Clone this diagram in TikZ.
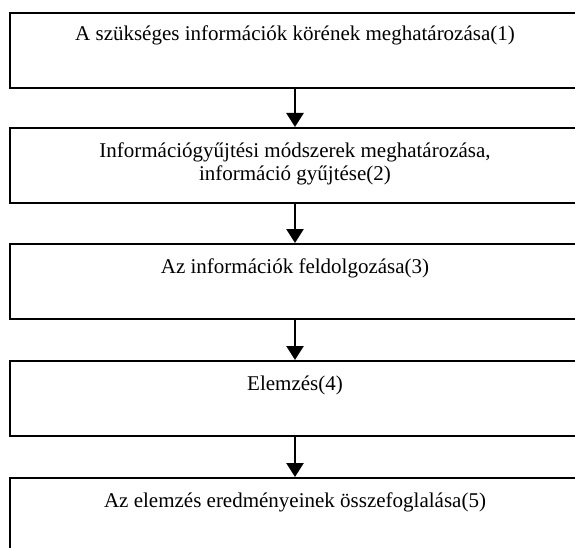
\documentclass[tikz,border=0pt]{standalone}
\usepackage{fontspec}
\setmainfont{Liberation Serif}
\usetikzlibrary{arrows.meta}
\begin{document}
\begin{tikzpicture}[x=1pt,y=-1pt,
  stepbox/.style={draw, line width=1.6pt, minimum width=570pt, minimum height=75pt, inner sep=0pt, anchor=north},
  steptext/.style={anchor=base, align=center, inner sep=0pt, font=\fontsize{21}{24}\selectfont},
  arr/.style={line width=2.6pt, -{Triangle[width=17pt,length=14pt]}}]
\useasboundingbox (0,0) rectangle (575,548);
\fill[white] (0,0) rectangle (575,548);
\node[stepbox] (b1) at (295,12) {};
\node[stepbox] (b2) at (295,127) {};
\node[stepbox] (b3) at (295,243) {};
\node[stepbox] (b4) at (295,360) {};
\node[stepbox] (b5) at (295,477) {};
\node[steptext] (t1) at (295,41) {A szükséges információk körének meghatározása(1)};
\node[steptext] (t2) at (295,181) {Információgyűjtési módszerek meghatározása,\\ információ gyűjtése(2)};
\node[steptext] (t3) at (295,273) {Az információk feldolgozása(3)};
\node[steptext] (t4) at (295,390) {Elemzés(4)};
\node[steptext] (t5) at (295,507) {Az elemzés eredményeinek összefoglalása(5)};
\draw[arr] (b1.south) -- (b2.north);
\draw[arr] (b2.south) -- (b3.north);
\draw[arr] (b3.south) -- (b4.north);
\draw[arr] (b4.south) -- (b5.north);
\end{tikzpicture}
\end{document}
